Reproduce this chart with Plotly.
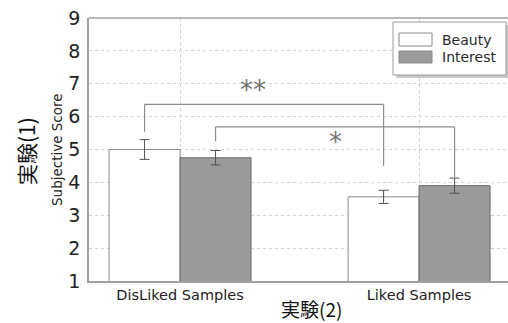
import plotly.graph_objects as go

categories = ["DisLiked Samples", "Liked Samples"]
series_names = ["Beauty", "Interest"]
beauty_values = [5.0, 3.56]
beauty_errors = [0.30, 0.20]
interest_values = [4.75, 3.90]
interest_errors = [0.22, 0.23]
y_ticks = [1, 2, 3, 4, 5, 6, 7, 8, 9]
# significance brackets: (from category, from series, to category, to series, bracket level, left end, right end, label)
brackets = [
    (0, 0, 1, 0, 6.37, 5.54, 4.50, "**"),
    (0, 1, 1, 1, 5.69, 5.25, 4.16, "*"),
]
star_positions = [(0.305, 6.81), (0.649, 5.22)]

BAR_W = 0.297
GAP = 1 - 2 * BAR_W

W, H = 508, 323
ML, MR, MT, MB = 89, 0, 18, 42
PW, PH = W - ML - MR, H - MT - MB

fig = go.Figure()
fig.add_trace(go.Bar(
    x=categories, y=beauty_values, name=series_names[0],
    marker=dict(color="white", line=dict(color="#8a8a8a", width=1)),
    error_y=dict(type="data", array=beauty_errors, color="#505050", thickness=1, width=5),
    showlegend=False,
))
fig.add_trace(go.Bar(
    x=categories, y=interest_values, name=series_names[1],
    marker=dict(color="#9b9b9b", line=dict(color="#6a6a6a", width=1)),
    error_y=dict(type="data", array=interest_errors, color="#505050", thickness=1, width=5),
    showlegend=False,
))

def bar_center(cat, ser):
    return cat + (ser - 0.5) * BAR_W

shapes = []
for c0, s0, c1, s1, level, y0, y1, lab in brackets:
    xa, xb = bar_center(c0, s0), bar_center(c1, s1)
    line = dict(color="#8c8c8c", width=1.2)
    shapes.append(dict(type="line", xref="x", yref="y", x0=xa, x1=xb, y0=level, y1=level, line=line))
    shapes.append(dict(type="line", xref="x", yref="y", x0=xa, x1=xa, y0=y0, y1=level, line=line))
    shapes.append(dict(type="line", xref="x", yref="y", x0=xb, x1=xb, y0=y1, y1=level, line=line))

annotations = []
for (bx, by), (_, _, _, _, _, _, _, lab) in zip(star_positions, brackets):
    annotations.append(dict(x=bx, y=by, xref="x", yref="y", text=lab, showarrow=False,
                            font=dict(size=26, color="#737373", family="DejaVu Sans")))

# top border
shapes.append(dict(type="line", xref="paper", yref="paper", x0=0, x1=1, y0=1, y1=1,
                   line=dict(color="#a0a0a0", width=1.5)))

# manual legend (pixel -> paper)
def px(x):
    return (x - ML) / PW

def py(y):
    return (H - MB - y) / PH

shapes.append(dict(type="rect", xref="paper", yref="paper", x0=px(396), x1=px(509), y0=py(78), y1=py(25),
                   line=dict(width=0), fillcolor="#c8c8c8", layer="above"))
shapes.append(dict(type="rect", xref="paper", yref="paper", x0=px(393), x1=px(506), y0=py(75), y1=py(22),
                   line=dict(color="#9a9a9a", width=1), fillcolor="white", layer="above"))
shapes.append(dict(type="rect", xref="paper", yref="paper", x0=px(399), x1=px(432), y0=py(46), y1=py(33),
                   line=dict(color="#8a8a8a", width=1), fillcolor="white", layer="above"))
shapes.append(dict(type="rect", xref="paper", yref="paper", x0=px(399), x1=px(432), y0=py(63), y1=py(51),
                   line=dict(color="#8a8a8a", width=1), fillcolor="#9b9b9b", layer="above"))
for name, yc in zip(series_names, [40, 57]):
    annotations.append(dict(x=px(440), y=py(yc), xref="paper", yref="paper", text=name,
                            showarrow=False, xanchor="left", yanchor="middle",
                            font=dict(size=14, color="#2a2a2a", family="DejaVu Sans")))

# axis titles
annotations.append(dict(x=px(57), y=py(150), xref="paper", yref="paper", text="Subjective Score",
                        textangle=-90, showarrow=False, xanchor="center", yanchor="middle",
                        font=dict(size=13.5, color="#222222", family="DejaVu Sans")))
annotations.append(dict(x=px(26), y=py(151), xref="paper", yref="paper", text="実験(1)",
                        textangle=-90, showarrow=False, xanchor="center", yanchor="middle",
                        font=dict(size=21, color="#111111", family="Noto Sans CJK JP")))
annotations.append(dict(x=px(311), y=py(308.5), xref="paper", yref="paper", text="実験(2)",
                        showarrow=False, xanchor="center", yanchor="middle",
                        font=dict(size=19, color="#111111", family="Noto Sans CJK JP")))

fig.update_layout(
    width=W, height=H,
    margin=dict(l=ML, r=MR, t=MT, b=MB, pad=0),
    paper_bgcolor="white", plot_bgcolor="white",
    barmode="group", bargap=GAP, bargroupgap=0,
    shapes=shapes, annotations=annotations,
    showlegend=False,
    font=dict(family="DejaVu Sans", color="#222222"),
)
fig.update_xaxes(
    range=[-0.381, 1.372], showgrid=True, gridcolor="#d2d2d2", griddash="dot", gridwidth=1,
    showline=True, linecolor="#a0a0a0", linewidth=1.5, ticks="",
    tickfont=dict(size=14.5, color="#222222", family="DejaVu Sans"), zeroline=False,
)
fig.update_yaxes(
    range=[1, 9], tickvals=y_ticks, showgrid=True, gridcolor="#d2d2d2", griddash="dot", gridwidth=1,
    showline=True, linecolor="#a0a0a0", linewidth=1.5, ticks="", ticklabelstandoff=3,
    tickfont=dict(size=19, color="#222222", family="DejaVu Sans"), zeroline=False,
)

fig.write_html(
    "out.html",
    config={"displayModeBar": False},
    post_script="document.body.style.margin='0';document.body.style.overflow='hidden';",
)
